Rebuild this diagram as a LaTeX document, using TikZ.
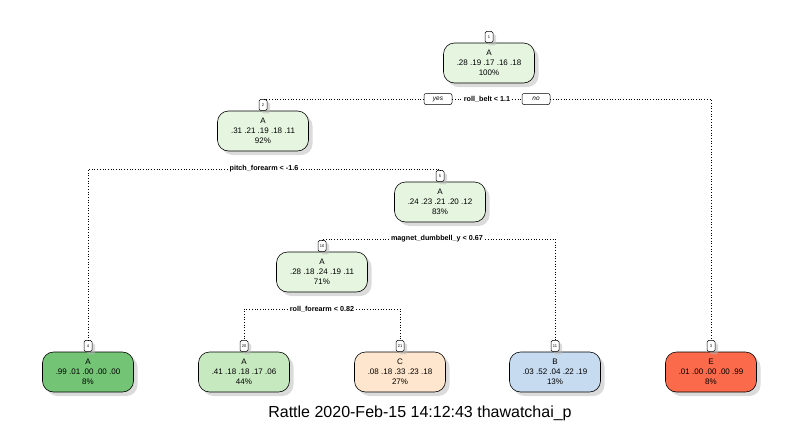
\documentclass[tikz,border=0pt]{standalone}
\usepackage{fontspec}
\setmainfont{Liberation Sans}
\usetikzlibrary{shadows}

\definecolor{paleA}{HTML}{E5F5E0}
\definecolor{darkA}{HTML}{74C476}
\definecolor{midA}{HTML}{C7E9C0}
\definecolor{peachC}{HTML}{FEE6CE}
\definecolor{blueB}{HTML}{C6DBEF}
\definecolor{redE}{HTML}{FB6A4A}

\tikzset{
  treebox/.style={draw, line width=0.6pt, rounded corners=11pt, minimum width=91pt,
    minimum height=40pt, align=center, inner sep=1pt, font=\fontsize{8}{10}\selectfont,
    drop shadow={shadow xshift=4pt, shadow yshift=-4pt, fill=black!28}},
  numbox/.style={draw, fill=white, line width=0.5pt, rounded corners=1.5pt, minimum width=8pt,
    minimum height=11pt, inner sep=1pt, anchor=south, font=\fontsize{4}{4}\selectfont,
    drop shadow={shadow xshift=3pt, shadow yshift=-3pt, fill=black!28}},
  splitlbl/.style={font=\bfseries\fontsize{7.2}{8}\selectfont, inner sep=2pt},
  yesno/.style={draw, fill=white, line width=0.5pt, rounded corners=2pt, minimum width=28pt,
    minimum height=11pt, inner sep=1pt, font=\itshape\fontsize{6.5}{7}\selectfont},
  branch/.style={dotted, line width=0.7pt}
}

\begin{document}
\begin{tikzpicture}[x=1pt,y=-1pt]
                \useasboundingbox (0,0) rectangle (800,426);
                % inner nodes
                \node[treebox, fill=paleA] (n1) at (489,63) {A\\.28 .19 .17 .16 .18\\100\%};
                \node[treebox, fill=paleA] (n2) at (263,131) {A\\.31 .21 .19 .18 .11\\92\%};
                \node[treebox, fill=paleA] (n5) at (440,202) {A\\.24 .23 .21 .20 .12\\83\%};
                \node[treebox, fill=paleA] (n10) at (322,272) {A\\.28 .18 .24 .19 .11\\71\%};
                % leaves
                \node[treebox, fill=darkA] (n4) at (88,372) {A\\.99 .01 .00 .00 .00\\8\%};
                \node[treebox, fill=midA] (n20) at (244,372) {A\\.41 .18 .18 .17 .06\\44\%};
                \node[treebox, fill=peachC] (n21) at (400,372) {C\\.08 .18 .33 .23 .18\\27\%};
                \node[treebox, fill=blueB] (n11) at (555,372) {B\\.03 .52 .04 .22 .19\\13\%};
                \node[treebox, fill=redE] (n3) at (711,372) {E\\.01 .00 .00 .00 .99\\8\%};
                % node numbers
                \node[numbox] (n1num) at (n1.north) {1};
                \node[numbox] (n2num) at (n2.north) {2};
                \node[numbox] (n5num) at (n5.north) {5};
                \node[numbox] (n10num) at (n10.north) {10};
                \node[numbox] (n4num) at (n4.north) {4};
                \node[numbox] (n20num) at (n20.north) {20};
                \node[numbox] (n21num) at (n21.north) {21};
                \node[numbox] (n11num) at (n11.north) {11};
                \node[numbox] (n3num) at (n3.north) {3};
                % splits
                \node[splitlbl] (split1) at (487,99) {roll\_belt < 1.1};
                \node[yesno] (yes) at (438,99) {yes};
                \node[yesno] (no) at (536,99) {no};
                \node[splitlbl] (split2) at (264,169) {pitch\_forearm < -1.6};
                \node[splitlbl] (split3) at (437,239) {magnet\_dumbbell\_y < 0.67};
                \node[splitlbl] (split4) at (322,309) {roll\_forearm < 0.82};
                % branches
                \draw[branch] (yes.west) -| (n2num.north);
                \draw[branch] (yes.east) -- (split1.west);
                \draw[branch] (split1.east) -- (no.west);
                \draw[branch] (no.east) -| (n3num.north);
                \draw[branch] (split2.west) -| (n4num.north);
                \draw[branch] (split2.east) -| (n5num.north);
                \draw[branch] (split3.west) -| (n10num.north);
                \draw[branch] (split3.east) -| (n11num.north);
                \draw[branch] (split4.west) -| (n20num.north);
                \draw[branch] (split4.east) -| (n21num.north);
                % stamp
                \node[font=\fontsize{16}{18}\selectfont] (stamp) at (420,413) {Rattle 2020-Feb-15 14:12:43 thawatchai\_p};
            \end{tikzpicture}
\end{document}
